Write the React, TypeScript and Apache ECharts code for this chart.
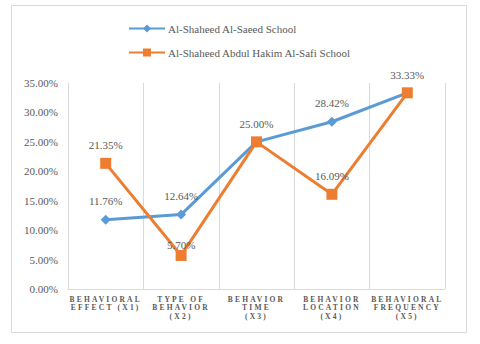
import React, { useEffect, useRef } from "react";
import * as echarts from "echarts";

const categories = [
  "BEHAVIORAL\nEFFECT (X1)",
  "TYPE OF\nBEHAVIOR\n(X2)",
  "BEHAVIOR\nTIME\n(X3)",
  "BEHAVIOR\nLOCATION\n(X4)",
  "BEHAVIORAL\nFREQUENCY\n(X5)",
];
const seriesNames = ["Al-Shaheed Al-Saeed School", "Al-Shaheed Abdul Hakim Al-Safi School"];
const saeedValues = [11.76, 12.64, 25.0, 28.42, 33.33];
const safiValues = [21.35, 5.7, 25.0, 16.09, 33.33];
const saeedLabelShown = [true, true, false, true, false];
const safiLabelShown = [true, true, true, true, true];
const yMin = 0;
const yMax = 35;
const yInterval = 5;

const SERIF = "Liberation Serif";
const GRAY = "#595959";

export default function App() {
  const ref = useRef<HTMLDivElement>(null);
  useEffect(() => {
    if (!ref.current) return;
    const chart = echarts.init(ref.current, undefined, { renderer: "svg" });
    const fmt = (v: number) => v.toFixed(2) + "%";
    chart.setOption({
      animation: false,
      backgroundColor: "#ffffff",
      textStyle: { fontFamily: SERIF },
      graphic: [
        {
          type: "rect",
          shape: { x: 11.5, y: 5.5, width: 455, height: 327 },
          style: { fill: "none", stroke: "#d9d9d9", lineWidth: 1 },
          silent: true,
        },
      ],
      legend: {
        orient: "vertical",
        left: 128,
        top: 23,
        padding: 0,
        itemWidth: 36,
        itemHeight: 10,
        itemGap: 13,
        data: seriesNames,
        textStyle: { fontFamily: SERIF, fontSize: 11, color: GRAY, padding: [0, 0, 0, -2] },
      },
      grid: { left: 68, right: 35, top: 83, bottom: 55, containLabel: false },
      xAxis: {
        type: "category",
        data: categories,
        boundaryGap: true,
        axisTick: { show: false },
        axisLine: { show: true, lineStyle: { color: "#d9d9d9", width: 1 } },
        splitLine: { show: true, lineStyle: { color: "#d9d9d9", width: 1 } },
        axisLabel: {
          interval: 0,
          margin: 6,
          fontFamily: SERIF,
          fontSize: 7.5,
          fontWeight: "bold",
          lineHeight: 8.5,
          color: GRAY,
          align: "center",
        },
      },
      yAxis: {
        type: "value",
        min: yMin,
        max: yMax,
        interval: yInterval,
        axisLine: { show: false },
        axisTick: { show: false },
        splitLine: { show: false },
        axisLabel: {
          margin: 10,
          fontFamily: SERIF,
          fontSize: 11,
          color: GRAY,
          formatter: (v: number) => fmt(v),
        },
      },
      series: [
        {
          name: seriesNames[0],
          type: "line",
          data: saeedValues.map((v, i) => ({
            value: v,
            label: { show: saeedLabelShown[i] },
          })),
          color: "#5B9BD5",
          lineStyle: { width: 3, color: "#5B9BD5" },
          symbol: "diamond",
          symbolSize: 10,
          itemStyle: { color: "#5B9BD5" },
          label: {
            position: "top",
            distance: 8,
            fontFamily: SERIF,
            fontSize: 11,
            color: GRAY,
            formatter: (p: any) => fmt(p.value),
          },
          z: 2,
        },
        {
          name: seriesNames[1],
          type: "line",
          data: safiValues.map((v, i) => ({
            value: v,
            label: i === 1 ? { show: safiLabelShown[i], offset: [0, 8] } : { show: safiLabelShown[i] },
          })),
          color: "#ED7D31",
          lineStyle: { width: 3, color: "#ED7D31" },
          symbol: "rect",
          symbolSize: 11,
          itemStyle: { color: "#ED7D31" },
          label: {
            position: "top",
            distance: 7,
            fontFamily: SERIF,
            fontSize: 11,
            color: GRAY,
            formatter: (p: any) => fmt(p.value),
          },
          z: 3,
        },
      ],
    });
    const lines = new Set<string>();
    categories.forEach((c) => c.split("\n").forEach((l) => lines.add(l)));
    const svg = ref.current.querySelector("svg");
    if (svg) {
      svg.querySelectorAll("text").forEach((t) => {
        const s = (t.textContent || "").trim();
        if (lines.has(s)) {
          (t as SVGTextElement).style.letterSpacing = "2.2px";
        }
      });
    }
    return () => chart.dispose();
  }, []);
  return (
    <div
      ref={ref}
      style={{ position: "fixed", left: 0, top: 0, width: 480, height: 344, background: "#fff" }}
    />
  );
}
